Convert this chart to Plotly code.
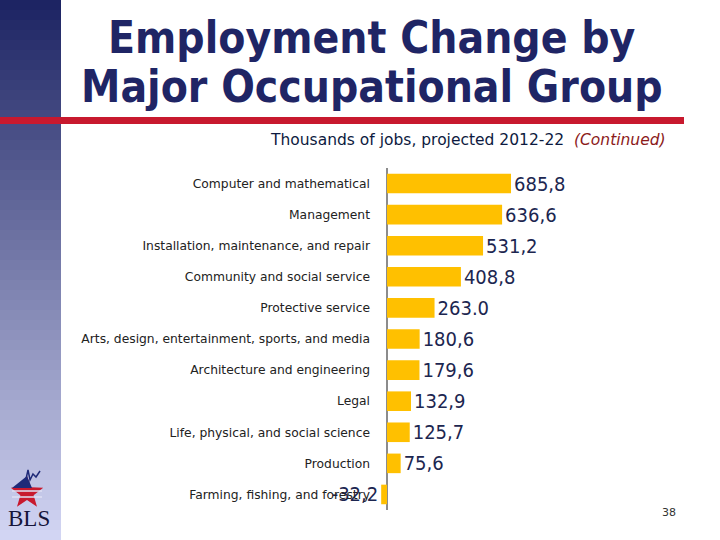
import plotly.graph_objects as go
import math

W, H = 720, 540

categories = [
    "Computer and mathematical",
    "Management",
    "Installation, maintenance, and repair",
    "Community and social service",
    "Protective service",
    "Arts, design, entertainment, sports, and media",
    "Architecture and engineering",
    "Legal",
    "Life, physical, and social science",
    "Production",
    "Farming, fishing, and forestry",
]
values = [685.8, 636.6, 531.2, 408.8, 263.0, 180.6, 179.6, 132.9, 125.7, 75.6, -32.2]
value_labels = ["685,8", "636,6", "531,2", "408,8", "263.0", "180,6", "179,6",
                "132,9", "125,7", "75,6", "-32,2"]


def px(x):
    return x / W


def py(y):
    return 1 - y / H


fig = go.Figure()
fig.add_trace(go.Bar(
    y=categories, x=values, orientation="h",
    marker=dict(color="#FFC000", line=dict(width=0)),
    text=value_labels, textposition="outside",
    textfont=dict(family="DejaVu Sans Condensed", size=20, color="#1c2650"),
    constraintext="none", cliponaxis=False,
))

shapes = []
# gradient stripe on the left
top = (0x1d, 0x24, 0x63)
bot = (0xd2, 0xd5, 0xf3)
n = 54
for i in range(n):
    t = i / (n - 1)
    c = tuple(round(top[k] + (bot[k] - top[k]) * t) for k in range(3))
    shapes.append(dict(type="rect", xref="paper", yref="paper",
                       x0=0, x1=px(61), y0=py(i * 10 + 10.5), y1=py(i * 10),
                       fillcolor="rgb(%d,%d,%d)" % c, line=dict(width=0), layer="below"))
# red rule
shapes.append(dict(type="rect", xref="paper", yref="paper",
                   x0=0, x1=px(684), y0=py(124), y1=py(117),
                   fillcolor="#c8192e", line=dict(width=0)))

# BLS star logo
cx, cy, R, r = 27, 493, 17, 7
pts = []
for k in range(10):
    ang = -math.pi / 2 + k * math.pi / 5
    rad = R if k % 2 == 0 else r
    pts.append((cx + rad * math.cos(ang), cy + rad * math.sin(ang)))
path = "M " + " L ".join("%.4f,%.4f" % (px(a), py(b)) for a, b in pts) + " Z"
shapes.append(dict(type="path", xref="paper", yref="paper", path=path,
                   fillcolor="#c8192e", line=dict(width=0)))
for yy in (491, 497):
    shapes.append(dict(type="line", xref="paper", yref="paper",
                       x0=px(12), x1=px(42), y0=py(yy), y1=py(yy),
                       line=dict(color="#dfe1f4", width=1.5)))
blue = [(px(a), py(b)) for a, b in [(12, 488), (27, 476), (32, 488)]]
shapes.append(dict(type="path", xref="paper", yref="paper",
                   path="M " + " L ".join("%.4f,%.4f" % p for p in blue) + " Z",
                   fillcolor="#1f2a78", line=dict(width=0)))
sq = [(26, 479), (28, 470), (30, 480), (33, 474), (36, 477), (40, 471)]
shapes.append(dict(type="path", xref="paper", yref="paper",
                   path="M " + " L ".join("%.4f,%.4f" % (px(a), py(b)) for a, b in sq),
                   line=dict(color="#1f2a78", width=1.5)))

annotations = [
    dict(text="<b>Employment Change by</b>", x=px(372), y=py(37), xref="paper", yref="paper",
         showarrow=False, xanchor="center", yanchor="middle",
         font=dict(family="DejaVu Sans Condensed", size=44, color="#1f2565")),
    dict(text="<b>Major Occupational Group</b>", x=px(372), y=py(87), xref="paper", yref="paper",
         showarrow=False, xanchor="center", yanchor="middle",
         font=dict(family="DejaVu Sans Condensed", size=44, color="#1f2565")),
    dict(text="Thousands of jobs, projected 2012-22  <i><span style='color:#8b1a1a'>(Continued)</span></i>",
         x=px(668), y=py(140), xref="paper", yref="paper", showarrow=False,
         xanchor="right", yanchor="middle",
         font=dict(family="DejaVu Sans", size=15.5, color="#0d1a40")),
    dict(text="38", x=px(669), y=py(512), xref="paper", yref="paper", showarrow=False,
         xanchor="center", yanchor="middle",
         font=dict(family="DejaVu Sans", size=11, color="#333333")),
    dict(text="BLS", x=px(29), y=py(518), xref="paper", yref="paper", showarrow=False,
         xanchor="center", yanchor="middle",
         font=dict(family="Liberation Serif", size=23, color="#15153a")),
]

scale = (511 - 387) / 685.8
fig.update_layout(
    width=W, height=H, margin=dict(l=0, r=0, t=0, b=0),
    paper_bgcolor="white", plot_bgcolor="rgba(0,0,0,0)",
    showlegend=False, bargap=0.37,
    shapes=shapes, annotations=annotations,
    xaxis=dict(domain=[px(376), px(710)],
               range=[-(387 - 376) / scale, (710 - 387) / scale],
               showgrid=False, showticklabels=False, ticks="",
               zeroline=True, zerolinecolor="#8c8c8c", zerolinewidth=2, showline=False),
    yaxis=dict(domain=[py(510), py(168)], autorange="reversed",
               categoryorder="array", categoryarray=categories,
               showgrid=False, ticks="", showline=False, ticklabelstandoff=5,
               tickfont=dict(family="DejaVu Sans", size=12.3, color="#222222")),
)

fig.write_html("out.html")
